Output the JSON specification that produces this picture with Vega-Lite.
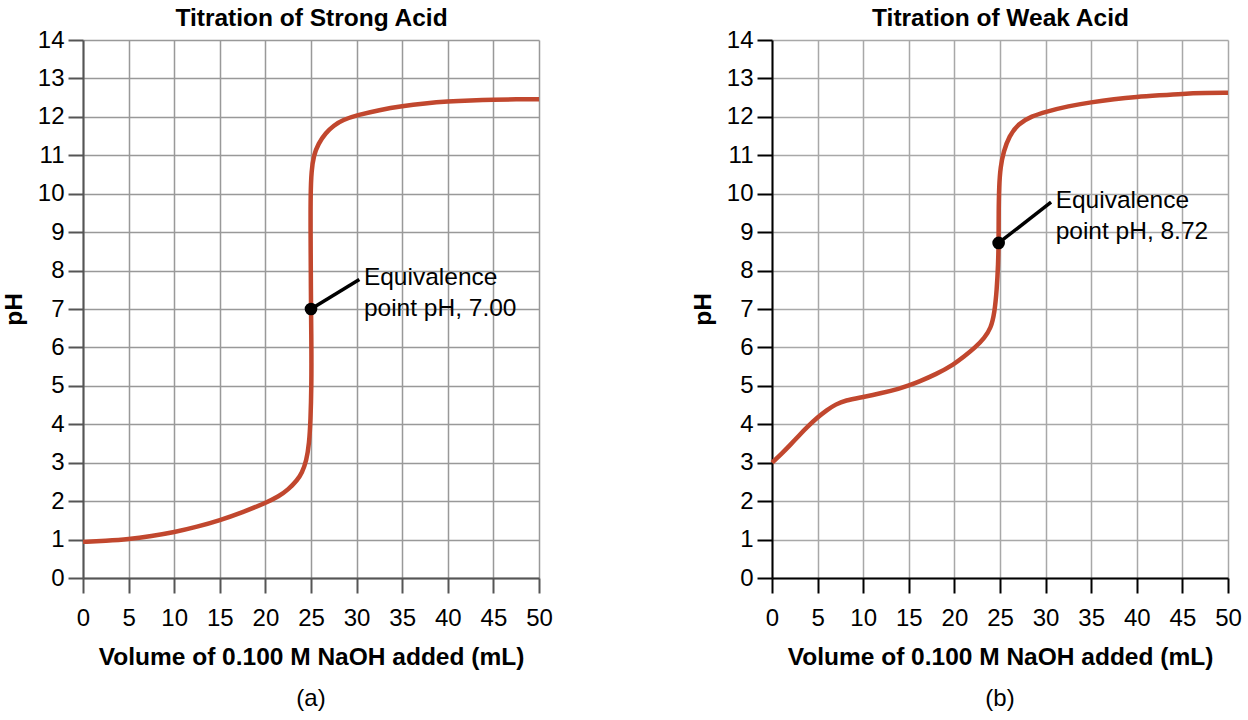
{
  "$schema": "https://vega.github.io/schema/vega-lite/v6.json",
  "background": "white",
  "padding": {"left": 1, "top": 5, "right": 7, "bottom": 3},
  "datasets": {
    "strong": [
      {"mL": 0, "pH": 0.94}, {"mL": 2.5, "pH": 0.97}, {"mL": 5, "pH": 1.01},
      {"mL": 7.5, "pH": 1.09}, {"mL": 10, "pH": 1.19}, {"mL": 12.5, "pH": 1.33},
      {"mL": 15, "pH": 1.5}, {"mL": 17.5, "pH": 1.71}, {"mL": 20, "pH": 1.95},
      {"mL": 21.5, "pH": 2.13}, {"mL": 22.5, "pH": 2.3}, {"mL": 23.5, "pH": 2.55},
      {"mL": 24, "pH": 2.73}, {"mL": 24.5, "pH": 3.05}, {"mL": 24.8, "pH": 3.5},
      {"mL": 24.95, "pH": 4.1}, {"mL": 25.05, "pH": 5}, {"mL": 25.05, "pH": 6},
      {"mL": 25.0, "pH": 7}, {"mL": 24.98, "pH": 8}, {"mL": 24.95, "pH": 9},
      {"mL": 24.95, "pH": 10}, {"mL": 25.05, "pH": 10.6}, {"mL": 25.3, "pH": 11.0},
      {"mL": 25.8, "pH": 11.3}, {"mL": 26.6, "pH": 11.58}, {"mL": 27.5, "pH": 11.78},
      {"mL": 28.5, "pH": 11.92}, {"mL": 30, "pH": 12.04}, {"mL": 32.5, "pH": 12.18},
      {"mL": 35, "pH": 12.28}, {"mL": 37.5, "pH": 12.35}, {"mL": 40, "pH": 12.4},
      {"mL": 42.5, "pH": 12.43}, {"mL": 45, "pH": 12.45}, {"mL": 47.5, "pH": 12.455},
      {"mL": 50, "pH": 12.46}
    ],
    "weak": [
      {"mL": 0, "pH": 3.0}, {"mL": 1, "pH": 3.22}, {"mL": 2, "pH": 3.46},
      {"mL": 3, "pH": 3.72}, {"mL": 4, "pH": 3.96}, {"mL": 5, "pH": 4.18},
      {"mL": 6, "pH": 4.37}, {"mL": 7, "pH": 4.52}, {"mL": 8, "pH": 4.62},
      {"mL": 10, "pH": 4.71}, {"mL": 12, "pH": 4.81}, {"mL": 14, "pH": 4.93},
      {"mL": 15, "pH": 5.01}, {"mL": 16, "pH": 5.1}, {"mL": 18, "pH": 5.3},
      {"mL": 20, "pH": 5.57}, {"mL": 21, "pH": 5.75}, {"mL": 22.3, "pH": 6.0},
      {"mL": 23.3, "pH": 6.25}, {"mL": 24.0, "pH": 6.5}, {"mL": 24.4, "pH": 6.9},
      {"mL": 24.65, "pH": 7.5}, {"mL": 24.8, "pH": 8.2}, {"mL": 24.85, "pH": 8.72},
      {"mL": 24.85, "pH": 9.5}, {"mL": 24.9, "pH": 10.2}, {"mL": 25.05, "pH": 10.7},
      {"mL": 25.4, "pH": 11.1}, {"mL": 26.0, "pH": 11.5}, {"mL": 27, "pH": 11.82},
      {"mL": 28.5, "pH": 12.02}, {"mL": 30, "pH": 12.13}, {"mL": 32.5, "pH": 12.28},
      {"mL": 35, "pH": 12.38}, {"mL": 37.5, "pH": 12.46}, {"mL": 40, "pH": 12.52},
      {"mL": 42.5, "pH": 12.56}, {"mL": 45, "pH": 12.6}, {"mL": 47.5, "pH": 12.62},
      {"mL": 50, "pH": 12.63}
    ],
    "strong_eq": [{"mL": 25, "pH": 7.0, "mL_end": 30.3, "pH_end": 7.77}],
    "strong_text": [
      {"mL": 30.8, "pH": 7.81, "label": "Equivalence"},
      {"mL": 30.8, "pH": 7.0, "label": "point pH, 7.00"}
    ],
    "weak_eq": [{"mL": 24.85, "pH": 8.72, "mL_end": 30.6, "pH_end": 9.78}],
    "weak_text": [
      {"mL": 31.1, "pH": 9.81, "label": "Equivalence"},
      {"mL": 31.1, "pH": 9.0, "label": "point pH, 8.72"}
    ]
  },
  "spacing": 137,
  "hconcat": [
    {
      "title": {"text": "(a)", "orient": "bottom", "anchor": "middle", "frame": "group", "offset": 18},
      "width": 456,
      "height": 538,
      "resolve": {"axis": {"x": "independent"}},
      "encoding": {
        "y": {
          "field": "pH", "type": "quantitative",
          "scale": {"domain": [0, 14]},
          "axis": {
            "title": "pH",
            "values": [0, 1, 2, 3, 4, 5, 6, 7, 8, 9, 10, 11, 12, 13, 14],
            "domainColor": "#555555", "tickColor": "#555555", "gridColor": "#999999"
          }
        }
      },
      "layer": [
        {
          "data": {"name": "strong"},
          "mark": {"type": "line", "color": "#c1472e", "strokeWidth": 4.5, "interpolate": "basis"},
          "encoding": {
            "x": {
              "field": "mL", "type": "quantitative",
              "scale": {"domain": [0, 50]},
              "axis": {
                "orient": "bottom",
                "title": "Volume of 0.100 M NaOH added (mL)",
                "values": [0, 5, 10, 15, 20, 25, 30, 35, 40, 45, 50],
                "domainColor": "#555555", "tickColor": "#555555", "gridColor": "#999999"
              }
            },
            "order": {"field": "pH", "type": "quantitative"}
          }
        },
        {
          "data": {"name": "strong_eq"},
          "mark": {"type": "rule", "color": "black", "strokeWidth": 3.5},
          "encoding": {
            "x": {"field": "mL", "type": "quantitative", "axis": null},
            "x2": {"field": "mL_end"},
            "y2": {"field": "pH_end"}
          }
        },
        {
          "data": {"name": "strong_eq"},
          "mark": {"type": "circle", "color": "black", "size": 160, "opacity": 1},
          "encoding": {"x": {"field": "mL", "type": "quantitative", "axis": null}}
        },
        {
          "data": {"name": "strong_text"},
          "mark": {"type": "text", "align": "left", "baseline": "middle", "fontSize": 24.5, "color": "black"},
          "encoding": {
            "x": {
              "field": "mL", "type": "quantitative",
              "axis": {
                "orient": "top", "title": "Titration of Strong Acid",
                "labels": false, "ticks": false, "domain": false, "grid": false,
                "titlePadding": 10
              }
            },
            "text": {"field": "label"}
          }
        }
      ]
    },
    {
      "title": {"text": "(b)", "orient": "bottom", "anchor": "middle", "frame": "group", "offset": 18},
      "width": 456,
      "height": 538,
      "resolve": {"axis": {"x": "independent"}},
      "encoding": {
        "y": {
          "field": "pH", "type": "quantitative",
          "scale": {"domain": [0, 14]},
          "axis": {
            "title": "pH",
            "values": [0, 1, 2, 3, 4, 5, 6, 7, 8, 9, 10, 11, 12, 13, 14],
            "domainColor": "black", "tickColor": "black", "gridColor": "#a8a8a8"
          }
        }
      },
      "layer": [
        {
          "data": {"name": "weak"},
          "mark": {"type": "line", "color": "#c1472e", "strokeWidth": 4.5, "interpolate": "basis"},
          "encoding": {
            "x": {
              "field": "mL", "type": "quantitative",
              "scale": {"domain": [0, 50]},
              "axis": {
                "orient": "bottom",
                "title": "Volume of 0.100 M NaOH added (mL)",
                "values": [0, 5, 10, 15, 20, 25, 30, 35, 40, 45, 50],
                "domainColor": "black", "tickColor": "black", "gridColor": "#a8a8a8"
              }
            },
            "order": {"field": "pH", "type": "quantitative"}
          }
        },
        {
          "data": {"name": "weak_eq"},
          "mark": {"type": "rule", "color": "black", "strokeWidth": 3.5},
          "encoding": {
            "x": {"field": "mL", "type": "quantitative", "axis": null},
            "x2": {"field": "mL_end"},
            "y2": {"field": "pH_end"}
          }
        },
        {
          "data": {"name": "weak_eq"},
          "mark": {"type": "circle", "color": "black", "size": 160, "opacity": 1},
          "encoding": {"x": {"field": "mL", "type": "quantitative", "axis": null}}
        },
        {
          "data": {"name": "weak_text"},
          "mark": {"type": "text", "align": "left", "baseline": "middle", "fontSize": 24.5, "color": "black"},
          "encoding": {
            "x": {
              "field": "mL", "type": "quantitative",
              "axis": {
                "orient": "top", "title": "Titration of Weak Acid",
                "labels": false, "ticks": false, "domain": false, "grid": false,
                "titlePadding": 10
              }
            },
            "text": {"field": "label"}
          }
        }
      ]
    }
  ],
  "config": {
    "font": "Liberation Sans",
    "view": {"stroke": null},
    "title": {"fontSize": 24, "fontWeight": "normal", "color": "black"},
    "axis": {
      "labelFontSize": 24,
      "labelColor": "black",
      "labelFont": "Liberation Sans",
      "labelFlush": false,
      "labelOverlap": false,
      "titleFontSize": 24.5,
      "titleFontWeight": "bold",
      "titleColor": "black",
      "titleFont": "Liberation Sans",
      "domainWidth": 2,
      "tickWidth": 2,
      "tickSize": 15,
      "gridWidth": 1.5,
      "gridOpacity": 1
    },
    "axisX": {"labelPadding": 13, "titlePadding": 15},
    "axisY": {"labelPadding": 4, "titlePadding": 11}
  }
}
